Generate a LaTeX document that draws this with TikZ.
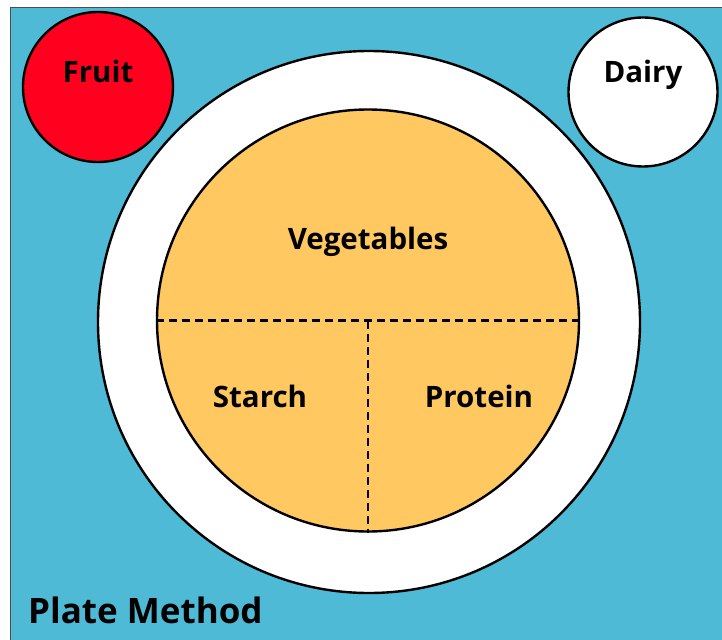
\documentclass[tikz,border=0pt]{standalone}
\usepackage{fontspec}
\setmainfont{Open Sans}
\begin{document}
\begin{tikzpicture}[x=1bp,y=-1bp,
  lbl/.style={font=\bfseries\fontsize{29.5bp}{34bp}\selectfont, text=black},
  disc/.style={circle, draw=black, line width=2.4bp, inner sep=0pt},
  divider/.style={line width=2.4bp, dash pattern=on 8bp off 5bp}]
\useasboundingbox (0,0) rectangle (722,640);
\definecolor{bgblue}{RGB}{79,186,214}
\definecolor{fruitred}{RGB}{255,0,30}
\definecolor{vegorange}{RGB}{255,200,96}
\fill[white] (0,0) rectangle (722,640);
\draw[bgblue, fill=bgblue] (10,8) rectangle (730,650);
\draw[black!70, line width=1bp] (10,650) -- (10,8) -- (730,8);
\node[disc, fill=fruitred, minimum size=150bp] (fruit) at (98,87) {};
\node[lbl] at (98,71) {Fruit};
\node[disc, fill=white, minimum size=149bp] (dairy) at (643,92) {};
\node[lbl] at (643,75) {Dairy};
\node[disc, fill=white, minimum size=542bp] (plate) at (369,322) {};
\node[disc, fill=vegorange, minimum size=422bp] (food) at (368,320.5) {};
\coordinate (hl) at (food.west);
\coordinate (hr) at (food.east);
\coordinate (mid) at (food.center);
\draw[divider] (hl) -- (hr);
\draw[divider] (mid) -- (food.south);
\node[lbl] (veg) at (368,242) {Vegetables};
\node[lbl] (starch) at (260,396) {Starch};
\node[lbl] (protein) at (479,396) {Protein};
\node[lbl, anchor=west, inner sep=0pt, font=\bfseries\fontsize{35bp}{40bp}\selectfont] (title) at (28,610) {Plate Method};
\end{tikzpicture}
\end{document}
